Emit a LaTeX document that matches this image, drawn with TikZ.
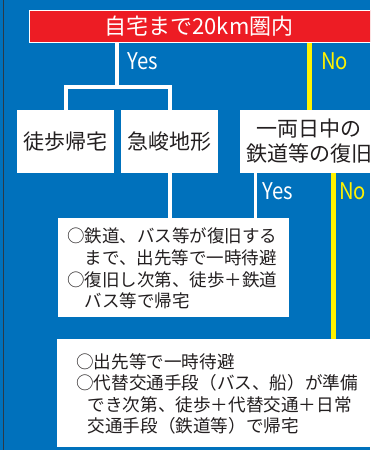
\documentclass[tikz,border=0pt]{standalone}
\usepackage{fontspec}
\setmainfont{Noto Sans CJK JP}
\definecolor{bg}{HTML}{0071BC}
\definecolor{redbox}{HTML}{ED1C24}
\definecolor{ylw}{HTML}{FFF200}
\definecolor{txt}{HTML}{231F20}
\definecolor{edge}{HTML}{2B3A48}
\tikzset{
  wline/.style={draw=white,line width=4pt},
  wthin/.style={draw=white,line width=3pt},
  yline/.style={draw=ylw,line width=5pt},
  wbox/.style={fill=white,inner sep=0pt,text=txt},
  lbl/.style={inner sep=0pt,anchor=west,font=\fontsize{23}{23}\selectfont},
  body/.style={align=left,font=\fontsize{17.5}{21.6}\selectfont,text=txt},
}
\begin{document}
\begin{tikzpicture}[x=1pt,y=-1pt]
\useasboundingbox (0,0) rectangle (370,450);
\clip (0,0) rectangle (370,450);
\fill[bg] (0,0) rectangle (370,450);
\draw[edge,line width=1pt] (3.5,0) -- (3.5,450);
% top
\node[fill=redbox,draw=white,line width=1pt,minimum width=343pt,minimum height=32pt,inner sep=0pt,text=white,font=\fontsize{22}{22}\selectfont] (top) at (200.5,26) {\hspace*{-3pt}自宅まで20km圏内};
% second row
\node[wbox,minimum width=97pt,minimum height=63pt,font=\fontsize{21}{21}\selectfont] (b1) at (65.5,141.5) {徒歩帰宅};
\node[wbox,minimum width=97pt,minimum height=63pt,font=\fontsize{21}{21}\selectfont] (b2) at (169.5,141.5) {急峻地形};
\node[wbox,minimum width=138pt,minimum height=63pt,align=center,font=\fontsize{21}{25}\selectfont] (b3) at (309,141.5) {一両日中の\\鉄道等の復旧};
% results
\node[wbox,minimum width=231pt,minimum height=99pt,anchor=north west] (r1) at (58,218) {};
\node[body,anchor=west,inner sep=0pt] (t1) at (67,268.5) {○鉄道、バス等が復旧する\\\hspace*{1em}まで、出先等で一時待避\\○復旧し次第、徒歩＋鉄道\\\hspace*{1em}バス等で帰宅};
\node[wbox,minimum width=321pt,minimum height=108pt,anchor=north west] (r2) at (57,339) {};
\node[body,anchor=west,inner sep=0pt,font=\fontsize{17.6}{21.3}\selectfont] (t2) at (76,394) {○出先等で一時待避\\○代替交通手段（バス、船）が準備\\\hspace*{0.65em}でき次第、徒歩＋代替交通＋日常\\\hspace*{0.65em}交通手段（鉄道等）で帰宅};
% connectors
\coordinate (j) at (117,87);
\coordinate (ys) at (255,0);
\coordinate (ns) at (333.5,0);
\draw[wline] (top.south -| j) -- (j);
\draw[wline,line cap=rect] (b1.north) -- (b1.north |- j) -- (b2.north |- j) -- (b2.north);
\draw[yline] (top.south -| b3.north) -- (b3.north);
\draw[wline] (b2.south -| 170,0) -- (r1.north -| 170,0);
\draw[wthin] (b3.south -| ys) -- (r1.north -| ys);
\draw[yline] (b3.south -| ns) -- (r2.north -| ns);
% labels
\node[lbl,text=white] (yes1) at (127,61.5) {\scalebox{0.88}[1]{Yes}};
\node[lbl,text=ylw] (no1) at (321,61.5) {\scalebox{0.88}[1]{No}};
\node[lbl,text=white] (yes2) at (262,191.5) {\scalebox{0.88}[1]{Yes}};
\node[lbl,text=ylw] (no2) at (339,191.5) {\scalebox{0.88}[1]{No}};
\end{tikzpicture}
\end{document}
